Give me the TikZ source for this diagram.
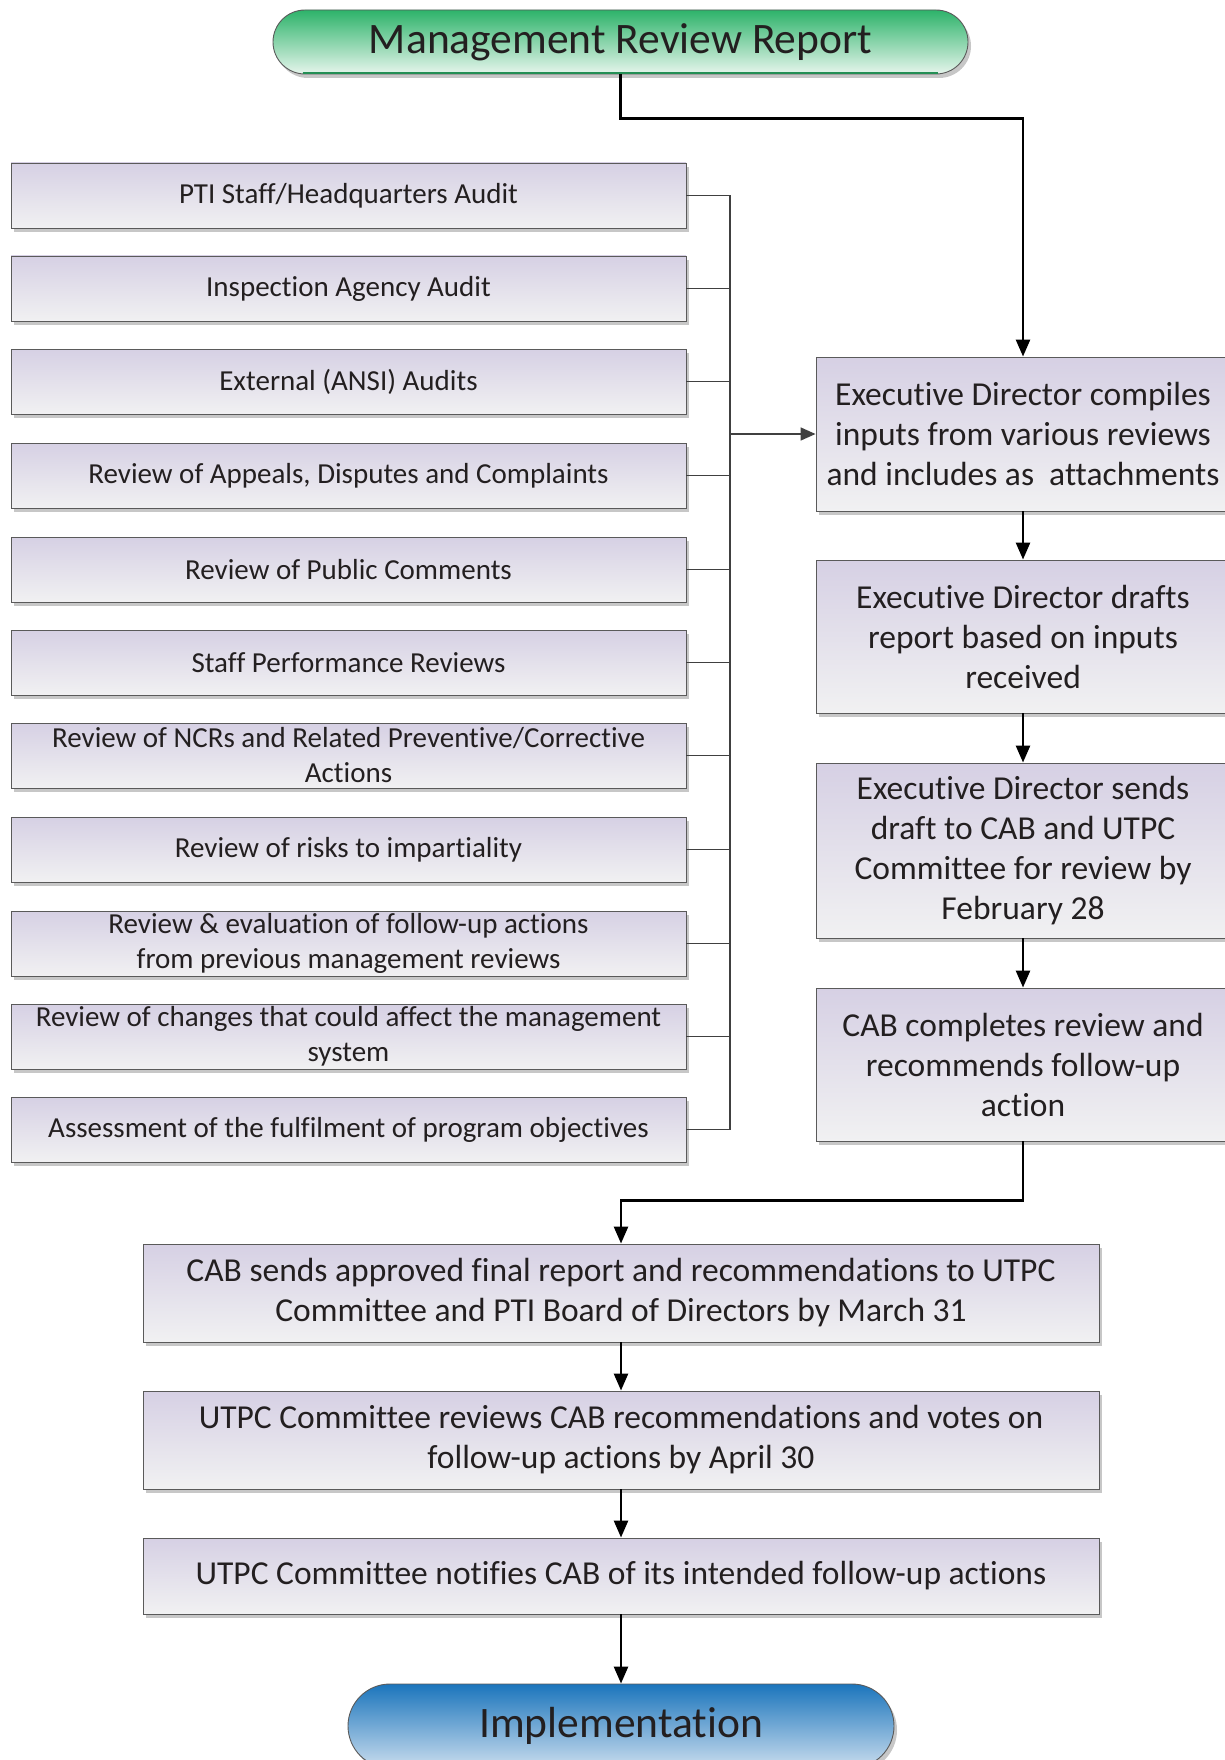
\documentclass[tikz,border=0pt]{standalone}
\usepackage{fontspec}
\setmainfont{Carlito}[Ligatures={NoCommon,NoContextual},Contextuals=NoAlternate]
\usetikzlibrary{arrows.meta,shadows}

\definecolor{boxtop}{HTML}{D6D0E4}
\definecolor{boxbot}{HTML}{F1F1F2}
\definecolor{framegray}{HTML}{5A5A5A}
\definecolor{textgray}{HTML}{231F20}
\definecolor{greentop}{HTML}{2DB36A}
\definecolor{greenbot}{HTML}{E6F5EC}
\definecolor{bluetop}{HTML}{1B75BC}
\definecolor{bluebot}{HTML}{CADDEE}

\tikzset{
  stepshade/.style={draw=framegray, line width=0.9pt, top color=boxtop, bottom color=boxbot,
    drop shadow={shadow xshift=3pt, shadow yshift=-4pt, fill=black!22, opacity=1},
    align=center, inner sep=2pt, text=textgray},
  inbox/.style={stepshade, minimum width=675pt, minimum height=65pt, font=\fontsize{29}{35}\selectfont},
  exbox/.style={stepshade, minimum width=414pt, font=\fontsize{33.5}{40}\selectfont},
  outbox/.style={stepshade, minimum width=956pt, font=\fontsize{33.5}{40}\selectfont},
  terminal/.style={draw=framegray, line width=0.9pt, align=center, text=textgray,
    drop shadow={shadow xshift=3pt, shadow yshift=-4pt, fill=black!22, opacity=1},
    font=\fontsize{43.5}{50}\selectfont},
  flow/.style={line width=2.6pt, -{Triangle[length=17pt,width=14pt]}},
  feed/.style={line width=1.6pt, draw=black!75}
}

\begin{document}
\begin{tikzpicture}[x=1pt,y=-1pt]
  \useasboundingbox (0,0) rectangle (1225,1760);

  % start and end
  \node[terminal, top color=greentop, bottom color=greenbot, rounded corners=32pt,
        minimum width=695pt, minimum height=64pt] (start) at (620.5, 42) {Management Review Report};
  \draw[greentop!80!black, line width=2.5pt] ([xshift=30pt,yshift=1.5pt]start.south west) -- ([xshift=-30pt,yshift=1.5pt]start.south east);
  \node[terminal, top color=bluetop, bottom color=bluebot, rounded corners=42pt,
        minimum width=546pt, minimum height=84pt] (impl) at (621, 1726) {Implementation};

  % inputs on the left
  \node[inbox] (in1) at (348.5, 195.5) {PTI Staff/Headquarters Audit};
  \node[inbox] (in2) at (348.5, 288.5) {Inspection Agency Audit};
  \node[inbox] (in3) at (348.5, 381.5) {External (ANSI) Audits};
  \node[inbox] (in4) at (348.5, 475.5) {Review of Appeals, Disputes and Complaints};
  \node[inbox] (in5) at (348.5, 569.5) {Review of Public Comments};
  \node[inbox] (in6) at (348.5, 662.5) {Staff Performance Reviews};
  \node[inbox] (in7) at (348.5, 755.5) {Review of NCRs and Related Preventive/Corrective\\Actions};
  \node[inbox] (in8) at (348.5, 849.5) {Review of risks to impartiality};
  \node[inbox] (in9) at (348.5, 943.5) {Review \& evaluation of follow-up actions\\from previous management reviews};
  \node[inbox] (in10) at (348.5, 1036.5) {Review of changes that could affect the management\\system};
  \node[inbox] (in11) at (348.5, 1129.5) {Assessment of the fulfilment of program objectives};

  % executive director steps
  \node[exbox, minimum height=154pt] (ed1) at (1023, 434) {Executive Director compiles\\inputs from various reviews\\and includes as\ \ attachments};
  \node[exbox, minimum height=153pt] (ed2) at (1023, 636.5) {Executive Director drafts\\report based on inputs\\received};
  \node[exbox, minimum height=175pt] (ed3) at (1023, 850.5) {Executive Director sends\\draft to CAB and UTPC\\Committee for review by\\February 28};
  \node[exbox, minimum height=153pt] (ed4) at (1023, 1064.5) {CAB completes review and\\recommends follow-up\\action};

  % final steps
  \node[outbox, minimum height=98pt] (fin1) at (621, 1293) {CAB sends approved final report and recommendations to UTPC\\Committee and PTI Board of Directors by March 31};
  \node[outbox, minimum height=98pt] (fin2) at (621, 1440) {UTPC Committee reviews CAB recommendations and votes on\\follow-up actions by April 30};
  \node[outbox, minimum height=76pt] (fin3) at (621, 1576) {UTPC Committee notifies CAB of its intended follow-up actions};

  % collecting bus
  \coordinate (hub) at (730, 434);
  \draw[feed] (in1.east) -- (in1.east -| hub);
  \draw[feed] (in2.east) -- (in2.east -| hub);
  \draw[feed] (in3.east) -- (in3.east -| hub);
  \draw[feed] (in4.east) -- (in4.east -| hub);
  \draw[feed] (in5.east) -- (in5.east -| hub);
  \draw[feed] (in6.east) -- (in6.east -| hub);
  \draw[feed] (in7.east) -- (in7.east -| hub);
  \draw[feed] (in8.east) -- (in8.east -| hub);
  \draw[feed] (in9.east) -- (in9.east -| hub);
  \draw[feed] (in10.east) -- (in10.east -| hub);
  \draw[feed] (in11.east) -- (in11.east -| hub);
  \draw[feed] (in1.east -| hub) -- (in11.east -| hub);
  \draw[feed, -{Triangle[length=15pt,width=13pt]}] (hub) -- (ed1.west);

  % main flow
  \draw[flow] (start.south) -- ++(0,44) -| (ed1.north);
  \draw[flow] (ed1) -- (ed2);
  \draw[flow] (ed2) -- (ed3);
  \draw[flow] (ed3) -- (ed4);
  \draw[flow] (ed4.south) -- ++(0,59) -| (fin1.north);
  \draw[flow] (fin1) -- (fin2);
  \draw[flow] (fin2) -- (fin3);
  \draw[flow] (fin3) -- (impl);
\end{tikzpicture}
\end{document}
